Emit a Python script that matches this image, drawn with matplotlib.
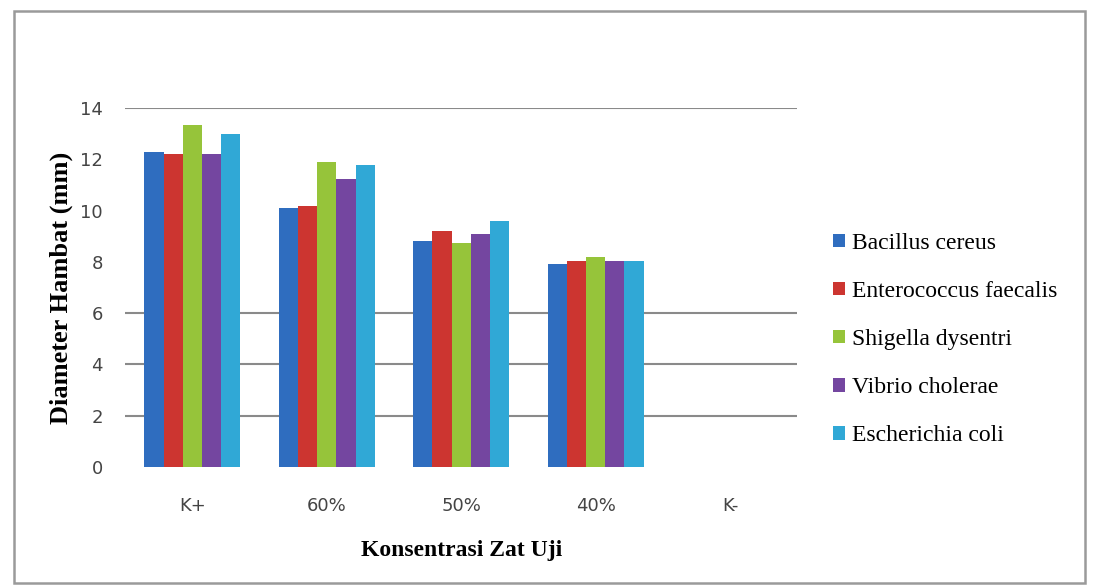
import matplotlib
matplotlib.use("Agg")
import matplotlib.pyplot as plt
import numpy as np
from matplotlib.patches import Rectangle

categories = ["K+", "60%", "50%", "40%", "K-"]
series_names = ["Bacillus cereus", "Enterococcus faecalis", "Shigella dysentri",
                "Vibrio cholerae", "Escherichia coli"]
bacillus = [12.3, 10.1, 8.8, 7.9, 0]
enterococcus = [12.2, 10.2, 9.2, 8.05, 0]
shigella = [13.35, 11.9, 8.75, 8.2, 0]
vibrio = [12.2, 11.25, 9.1, 8.05, 0]
ecoli = [13.0, 11.8, 9.6, 8.05, 0]
values = [bacillus, enterococcus, shigella, vibrio, ecoli]
colors = ["#2f6dbf", "#cc3530", "#96c43a", "#7446a0", "#30a8d6"]
yticks = [0, 2, 4, 6, 8, 10, 12, 14]
ytick_labels = ["0", "2", "4", "6", "8", "10", "12", "14"]

fig = plt.figure(figsize=(10.98, 5.88), dpi=100)
fig.patches.append(Rectangle((0.013, 0.008), 0.975, 0.973, transform=fig.transFigure,
                             fill=False, edgecolor="#9a9a9a", linewidth=1.8))
ax = fig.add_axes([0.114, 0.206, 0.612, 0.61])

x = np.arange(len(categories))
w = 0.143
for i, (name, vals, c) in enumerate(zip(series_names, values, colors)):
    ax.bar(x + (i - 2) * w, vals, width=w, color=c, label=name, zorder=3)

for gy in [2, 4, 6, 14]:
    ax.axhline(gy, color="#8a8a8a", linewidth=1.5, zorder=1)

ax.set_xlim(-0.5, 4.5)
ax.set_ylim(0, 14)
ax.set_yticks(yticks)
ax.set_yticklabels(ytick_labels)
ax.set_xticks(x)
ax.set_xticklabels(categories)
for s in ax.spines.values():
    s.set_visible(False)
ax.tick_params(axis="both", length=0, labelsize=13, colors="#444444")
ax.tick_params(axis="x", pad=22)
ax.tick_params(axis="y", pad=16)

ax.set_ylabel("Diameter Hambat (mm)", family="Liberation Serif", fontweight="bold",
              fontsize=19, labelpad=5)
ax.set_xlabel("Konsentrasi Zat Uji", family="Liberation Serif", fontweight="bold",
              fontsize=17, labelpad=18)

leg = ax.legend(loc="center left", bbox_to_anchor=(1.022, 0.355), frameon=False,
                prop={"family": "Liberation Serif", "size": 17},
                handlelength=0.5, handleheight=0.5, handletextpad=0.3,
                labelspacing=1.15)

fig.savefig("out.png", dpi=100)
